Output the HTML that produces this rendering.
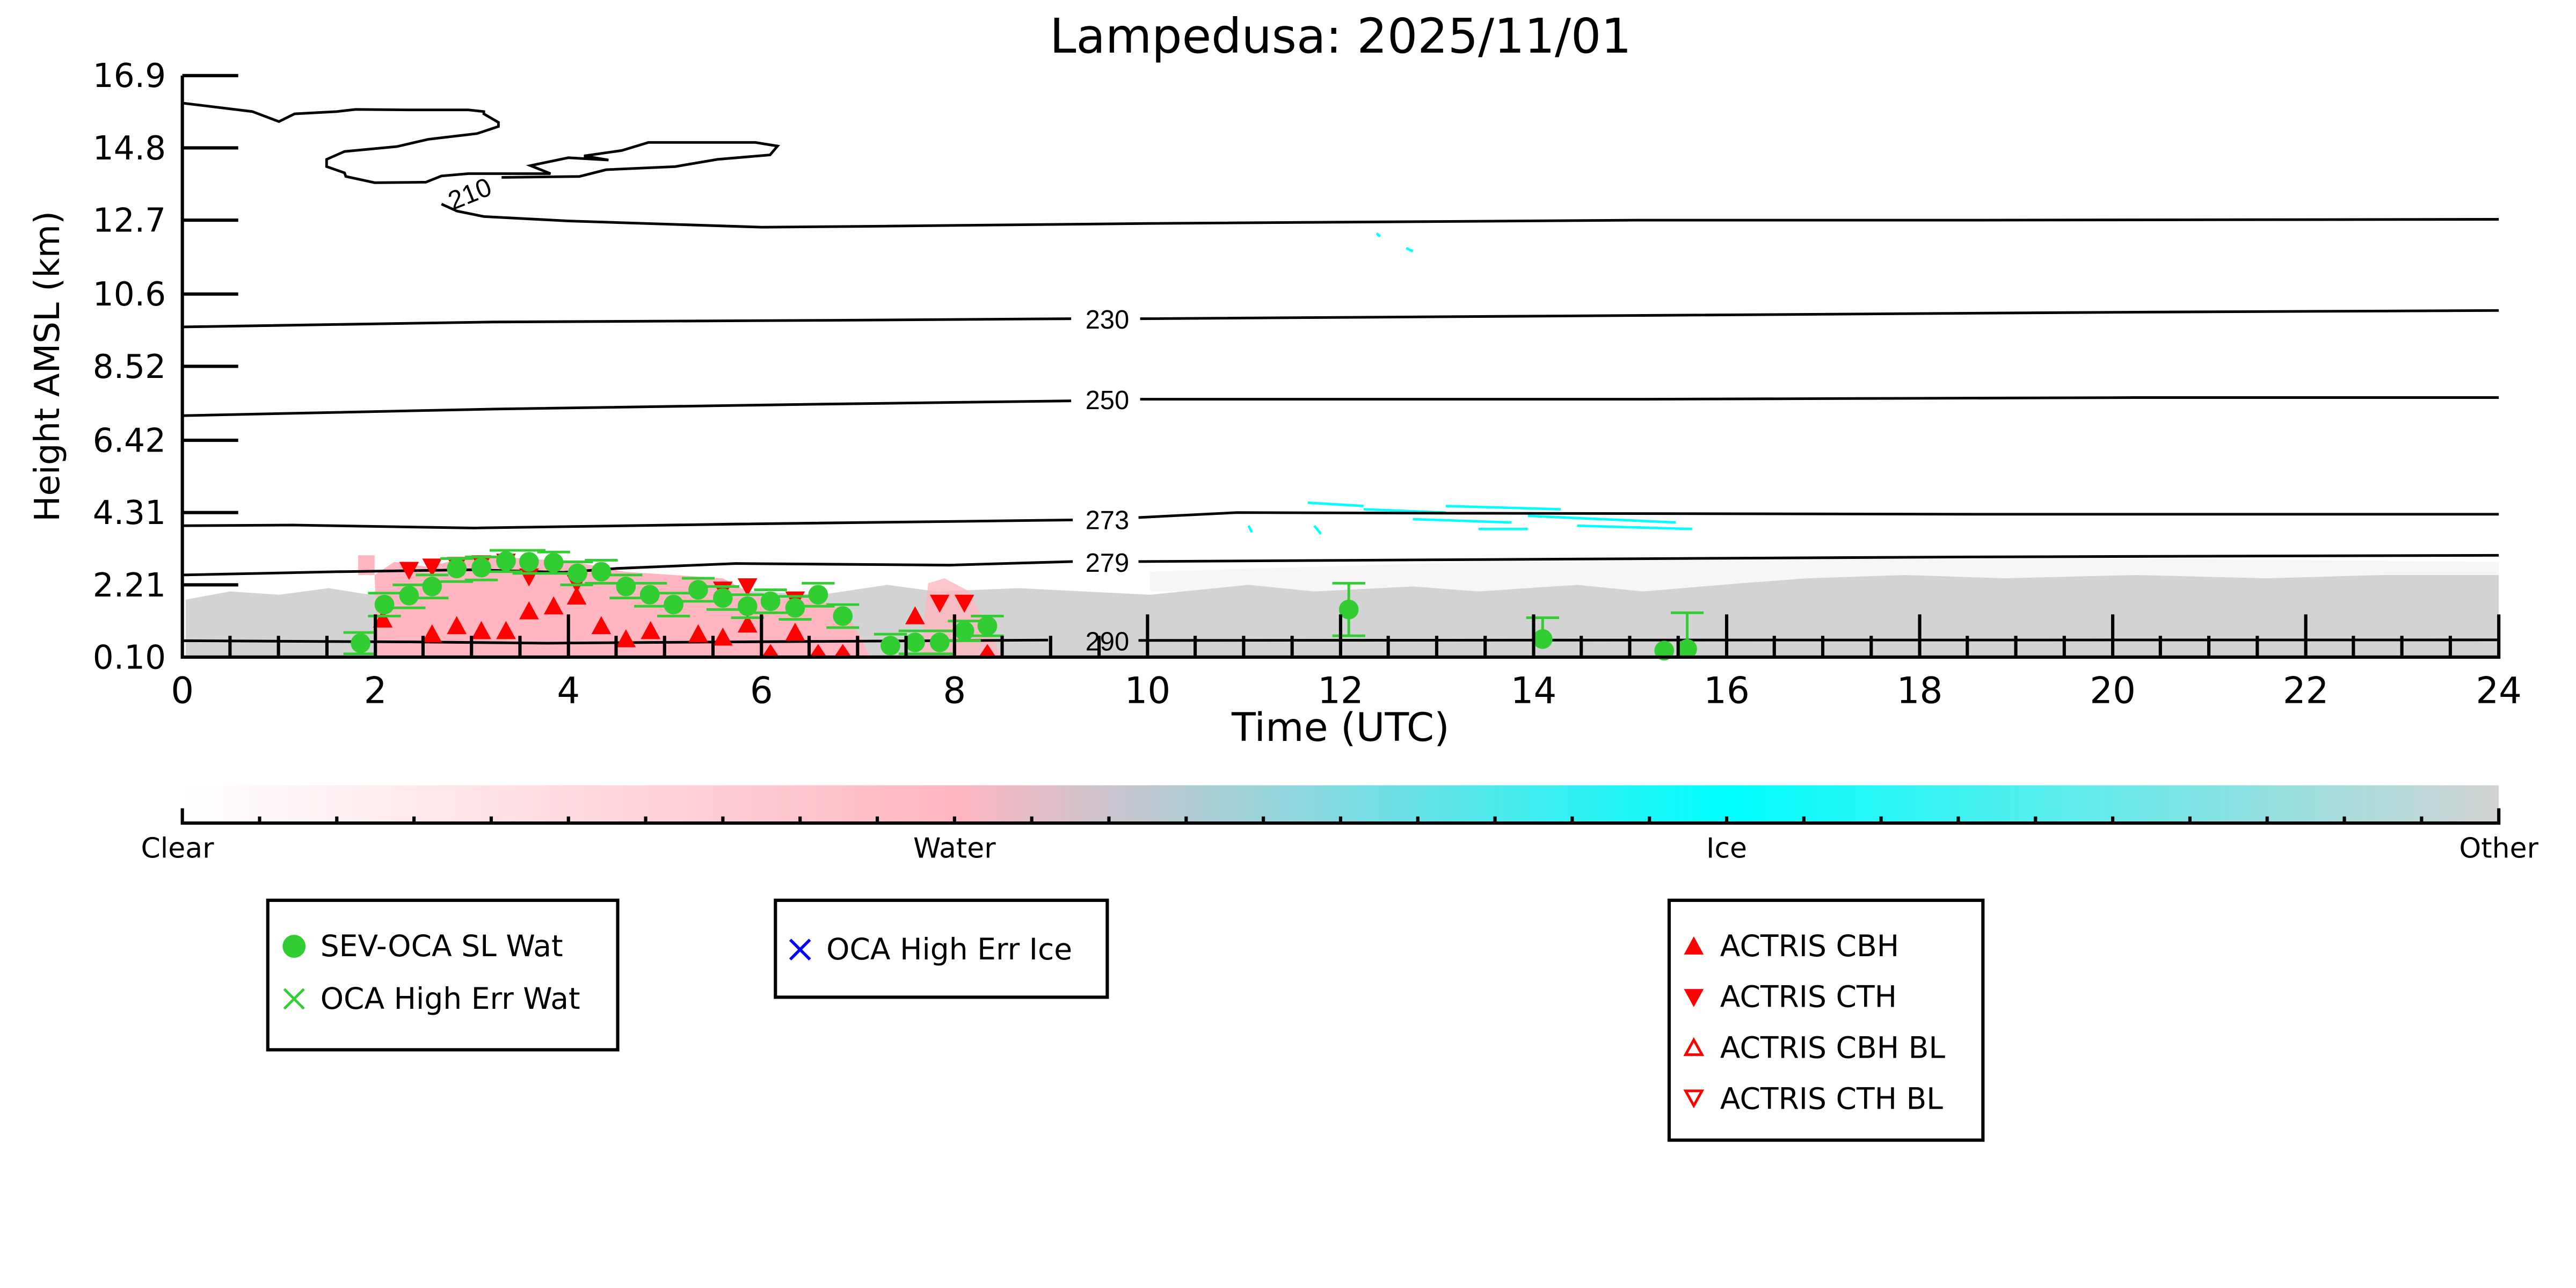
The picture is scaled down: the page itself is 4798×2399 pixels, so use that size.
<!DOCTYPE html>
<html><head><meta charset="utf-8"><style>html,body{margin:0;padding:0;background:#fff}svg{display:block}</style></head>
<body>
<svg xmlns="http://www.w3.org/2000/svg" width="4798" height="2399" viewBox="0 0 1568 784" font-family="'DejaVu Sans','Liberation Sans',sans-serif">
<defs>
<linearGradient id="cb" x1="0" x2="1" y1="0" y2="0">
<stop offset="0" stop-color="#ffffff"/>
<stop offset="0.333" stop-color="#ffb6c1"/>
<stop offset="0.667" stop-color="#00ffff"/>
<stop offset="1" stop-color="#d3d3d3"/>
</linearGradient>
</defs>
<rect width="1568" height="784" fill="#fff"/>
<text x="816" y="32" font-size="29" text-anchor="middle">Lampedusa: 2025/11/01</text>

<polygon points="700,348 900,342 1100,338 1300,340 1521,342 1521,360 700,360" fill="#f6f6f6"/>
<polygon points="113,365 140,360 170,362 200,358 225,362 240,352 300,350 340,352 380,358 420,356 460,360 500,362 540,356 570,360 620,358 660,360 700,362 760,356 800,360 860,357 900,360 960,356 1000,360 1060,355 1100,352 1160,350 1220,352 1300,350 1380,352 1450,350 1521,350 1521,400 113,400" fill="#d3d3d3"/>
<polygon points="230,400 228,350 240,342 260,345 290,338 320,340 350,342 380,348 410,350 440,352 455,360 470,366 490,362 515,372 530,400" fill="#ffb6c1"/>
<polygon points="560,400 565,355 575,352 590,360 600,380 610,400" fill="#ffb6c1" opacity="0.8"/>
<rect x="218" y="338" width="10" height="12" fill="#ffb6c1"/>
<g stroke="#00ffff" stroke-width="1.5">
<line x1="796" y1="306" x2="830" y2="308"/><line x1="830" y1="310" x2="880" y2="312"/><line x1="860" y1="316" x2="920" y2="318"/>
<line x1="880" y1="308" x2="950" y2="310"/><line x1="930" y1="314" x2="1020" y2="318"/><line x1="900" y1="322" x2="930" y2="322"/>
<line x1="960" y1="320" x2="1030" y2="322"/><line x1="800" y1="320" x2="804" y2="325"/><line x1="760" y1="320" x2="762" y2="324"/>
<line x1="838" y1="142" x2="840" y2="144"/><line x1="856" y1="151" x2="860" y2="153"/>
</g>

<g fill="none" stroke="#000" stroke-width="1.6">
<polyline points="111.6,62.8 153.6,67.9 169.8,74 179.3,69.3 205,67.9 216.4,66.6 248.4,66.9 285,66.9 294.5,67.9 294.5,69.3 303.4,74.5 303.4,77 290.4,81.3 260.6,84.8 241.6,89.2 209.7,92.2 198.8,97 198.8,101.4 209.7,105.2 210.5,107.4 228.1,111.2 259.2,110.9 268.7,107.1 285,105.7 335.1,105.7 322.9,100.8 346,96 370.4,97.4 355.5,94.9 378.5,91.6 394.7,86.7 459.8,86.7 473.3,88.9 468.7,94.3 436.8,97 411,101.4 369,103.3 352.7,107.4 305.3,108"/>
<polyline points="268.7,124.2 278.2,128.5 294.5,131.8 346,134.5 463.9,138.3 523,137.8 700,136 1000,134 1200,134 1521,133.5"/>
<polyline points="111,199 300,196 500,195 652,194"/>
<polyline points="694,194 1000,192 1300,190 1521,189"/>
<polyline points="111,253 300,249 500,246 652,244"/>
<polyline points="694,243 1000,243 1300,242 1521,242"/>
<polyline points="111,320 178,319.6 288,321.4 448,319 653,316.5"/>
<polyline points="693,315 753,312 882,312.4 1200,313 1521,313"/>
<polyline points="111,350 205.5,348 288,346.8 343,348.4 375.5,346 448,343 578,344 653,341.8"/>
<polyline points="693,341.8 882,340.7 1200,339 1521,338"/>
<polyline points="111,390 248,390.7 333,391.5 448,390.7 638,389.6"/>
<polyline points="693,389.8 1000,389.6 1521,389.5"/>
</g>
<g font-size="16" text-anchor="middle" font-family="'Liberation Sans',sans-serif">
<text x="0" y="0" transform="translate(288,123) rotate(-22)">210</text>
<text x="674" y="200">230</text>
<text x="674" y="249">250</text>
<text x="674" y="322">273</text>
<text x="674" y="348">279</text>
<text x="674" y="396">290</text>
</g>

<g fill="#ff0000">
<path d="M243,342h12l-6,11z"/><path d="M257,340h12l-6,11z"/><path d="M272,339h12l-6,11z"/><path d="M287,338h12l-6,11z"/>
<path d="M316,346h12l-6,11z"/><path d="M345,350h12l-6,11z"/><path d="M434,354h12l-6,11z"/><path d="M449,352h12l-6,11z"/>
<path d="M478,360h12l-6,11z"/><path d="M566,362h12l-6,11z"/><path d="M581,362h12l-6,11z"/><path d="M302,337h12l-6,11z"/>
<path d="M227,382h12l-6,-11z"/><path d="M257,391h12l-6,-11z"/><path d="M272,386h12l-6,-11z"/><path d="M287,389h12l-6,-11z"/>
<path d="M302,389h12l-6,-11z"/><path d="M316,377h12l-6,-11z"/><path d="M331,374h12l-6,-11z"/><path d="M345,368h12l-6,-11z"/>
<path d="M360,386h12l-6,-11z"/><path d="M375,394h12l-6,-11z"/><path d="M390,389h12l-6,-11z"/><path d="M419,391h12l-6,-11z"/>
<path d="M434,393h12l-6,-11z"/><path d="M449,385h12l-6,-11z"/><path d="M478,390h12l-6,-11z"/><path d="M463,401h12l-6,-9z"/>
<path d="M492,401h12l-6,-9z"/><path d="M507,401h12l-6,-9z"/><path d="M595,401h12l-6,-9z"/><path d="M551,380h12l-6,-11z"/>
</g>

<g stroke="#32cd32" stroke-width="1.6">
<path d="M209,385h20M209,398h20M224,361h20M224,375h20M239,356h20M239,370h20M253,350h20M253,364h20M268,340h20M268,354h20M283,339h20M283,353h20M298,335h20M298,348h20M312,335h20M312,349h20M327,336h20M327,349h20M341,342h20M341,356h20M356,341h20M356,355h20M371,350h20M371,364h20M386,355h20M386,369h20M400,361h20M400,375h20M415,352h20M415,366h20M430,357h20M430,371h20M445,362h20M445,376h20M459,359h20M459,373h20M474,363h20M474,377h20M488,355h20M488,369h20M503,368h20M503,382h20M532,386h20M532,400h20M547,384h20M547,398h20M562,384h20M562,398h20M577,378h20M577,390h20M591,375h20M591,387h20"/>
<path d="M821,355v32M811,355h20M811,387h20M939,376v18M929,376h20M1027,373v27M1017,373h20"/>
</g>
<g fill="#32cd32">
<circle cx="219.5" cy="391.5" r="6"/><circle cx="234" cy="368" r="6"/><circle cx="249" cy="362.5" r="6"/><circle cx="263" cy="357" r="6"/>
<circle cx="278" cy="346" r="6"/><circle cx="293" cy="345.5" r="6"/><circle cx="308" cy="341.5" r="6"/><circle cx="322" cy="342" r="6"/>
<circle cx="337" cy="342.5" r="6"/><circle cx="351.5" cy="349" r="6"/><circle cx="366" cy="348" r="6"/><circle cx="381" cy="357" r="6"/>
<circle cx="395.5" cy="362" r="6"/><circle cx="410" cy="368" r="6"/><circle cx="425" cy="359" r="6"/><circle cx="440" cy="364" r="6"/>
<circle cx="455" cy="369" r="6"/><circle cx="469" cy="366" r="6"/><circle cx="484" cy="370" r="6"/><circle cx="498" cy="362" r="6"/>
<circle cx="513" cy="375" r="6"/><circle cx="542" cy="393" r="6"/><circle cx="557" cy="391" r="6"/><circle cx="572" cy="391" r="6"/>
<circle cx="587" cy="384" r="6"/><circle cx="601" cy="381" r="6"/><circle cx="821" cy="371" r="6"/><circle cx="939" cy="389" r="6"/>
<circle cx="1013" cy="396" r="6"/><circle cx="1027" cy="395" r="6"/>
</g>

<g stroke="#000" stroke-width="2" fill="none">
<path d="M111,46V400H1521V374"/>
<path d="M111,46h34M111,90h34M111,134h34M111,179h34M111,223h34M111,268h34M111,312h34M111,356h34"/>
<path d="M228.5,400v-26M346,400v-26M463.5,400v-26M581,400v-26M698.5,400v-26M816,400v-26M933.5,400v-26M1051,400v-26M1168.5,400v-26M1286,400v-26M1403.5,400v-26"/>
<path d="M140,400v-13M169.5,400v-13M199,400v-13M257.5,400v-13M287,400v-13M316.5,400v-13M375,400v-13M404.5,400v-13M434,400v-13M492.5,400v-13M522,400v-13M551.5,400v-13M610,400v-13M639.5,400v-13M669,400v-13M727.5,400v-13M757,400v-13M786.5,400v-13M845,400v-13M874.5,400v-13M904,400v-13M962.5,400v-13M992,400v-13M1021.5,400v-13M1080,400v-13M1109.5,400v-13M1139,400v-13M1197.5,400v-13M1227,400v-13M1256.5,400v-13M1315,400v-13M1344.5,400v-13M1374,400v-13M1432.5,400v-13M1462,400v-13M1491.5,400v-13"/>
</g>
<g font-size="20" text-anchor="end">
<text x="101" y="53">16.9</text><text x="101" y="97">14.8</text><text x="101" y="141">12.7</text><text x="101" y="186">10.6</text>
<text x="101" y="230">8.52</text><text x="101" y="275">6.42</text><text x="101" y="319">4.31</text><text x="101" y="363">2.21</text><text x="101" y="407">0.10</text>
</g>
<g font-size="22" text-anchor="middle">
<text x="111" y="428">0</text><text x="228.5" y="428">2</text><text x="346" y="428">4</text><text x="463.5" y="428">6</text><text x="581" y="428">8</text>
<text x="698.5" y="428">10</text><text x="816" y="428">12</text><text x="933.5" y="428">14</text><text x="1051" y="428">16</text><text x="1168.5" y="428">18</text>
<text x="1286" y="428">20</text><text x="1403.5" y="428">22</text><text x="1521" y="428">24</text>
<text x="816" y="451" font-size="24">Time (UTC)</text>
<text x="0" y="0" transform="translate(36,223) rotate(-90)" font-size="21">Height AMSL (km)</text>
</g>

<rect x="111" y="478" width="1410" height="22" fill="url(#cb)"/>
<g stroke="#000" stroke-width="2" fill="none">
<path d="M111,492V501H1521V492"/>
<path d="M158,501v-4M205,501v-4M252,501v-4M299,501v-4M346,501v-4M393,501v-4M440,501v-4M487,501v-4M534,501v-4M581,501v-4M628,501v-4M675,501v-4M722,501v-4M769,501v-4M816,501v-4M863,501v-4M910,501v-4M957,501v-4M1004,501v-4M1051,501v-4M1098,501v-4M1145,501v-4M1192,501v-4M1239,501v-4M1286,501v-4M1333,501v-4M1380,501v-4M1427,501v-4M1474,501v-4"/>
</g>
<g font-size="17" text-anchor="middle">
<text x="108" y="522">Clear</text><text x="581" y="522">Water</text><text x="1051" y="522">Ice</text><text x="1521" y="522">Other</text>
</g>

<g fill="none" stroke="#000" stroke-width="2">
<rect x="163" y="548" width="213" height="91"/>
<rect x="472" y="548" width="202" height="59"/>
<rect x="1016" y="548" width="191" height="146"/>
</g>
<g font-size="18">
<circle cx="179" cy="576" r="7" fill="#32cd32"/>
<text x="195" y="582">SEV-OCA SL Wat</text>
<path d="M173,602l12,12M185,602l-12,12" stroke="#32cd32" stroke-width="1.6"/>
<text x="195" y="614">OCA High Err Wat</text>
<path d="M481,572l12,12M493,572l-12,12" stroke="#0000ff" stroke-width="1.8"/>
<text x="503" y="584">OCA High Err Ice</text>
<path d="M1025,581h12l-6,-11z" fill="#ff0000"/>
<text x="1047" y="582">ACTRIS CBH</text>
<path d="M1025,602h12l-6,11z" fill="#ff0000"/>
<text x="1047" y="613">ACTRIS CTH</text>
<path d="M1026,642h10l-5,-9z" fill="none" stroke="#ff0000" stroke-width="1.6"/>
<text x="1047" y="644">ACTRIS CBH BL</text>
<path d="M1026,664h10l-5,9z" fill="none" stroke="#ff0000" stroke-width="1.6"/>
<text x="1047" y="675">ACTRIS CTH BL</text>
</g>
</svg>
</body></html>
